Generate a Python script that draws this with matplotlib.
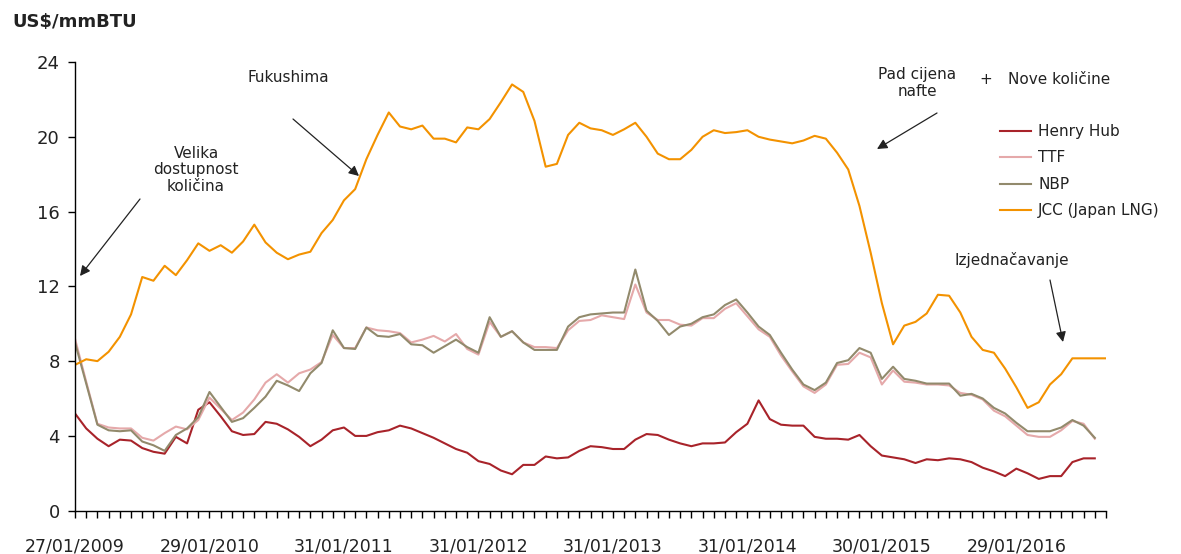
import matplotlib
matplotlib.use("Agg")
import matplotlib.pyplot as plt

plt.rcParams['font.family'] = ['DejaVu Sans']

# monthly prices, US$/mmBTU, from 01/2009
henry_hub = [5.2, 4.4, 3.85, 3.45, 3.8, 3.75, 3.35, 3.15, 3.05, 3.95, 3.6, 5.4,
             5.8, 5.05, 4.25, 4.05, 4.1, 4.75, 4.65, 4.35, 3.95, 3.45, 3.8, 4.3,
             4.45, 4.0, 4.0, 4.2, 4.3, 4.55, 4.4, 4.15, 3.9, 3.6, 3.3, 3.1,
             2.65, 2.5, 2.15, 1.95, 2.45, 2.45, 2.9, 2.8, 2.85, 3.2, 3.45, 3.4,
             3.3, 3.3, 3.8, 4.1, 4.05, 3.8, 3.6, 3.45, 3.6, 3.6, 3.65, 4.2,
             4.65, 5.9, 4.9, 4.6, 4.55, 4.55, 3.95, 3.85, 3.85, 3.8, 4.05, 3.45,
             2.95, 2.85, 2.75, 2.55, 2.75, 2.7, 2.8, 2.75, 2.6, 2.3, 2.1, 1.85,
             2.25, 2.0, 1.7, 1.85, 1.85, 2.6, 2.8, 2.8]
ttf = [9.2, 6.9, 4.65, 4.45, 4.4, 4.4, 3.9, 3.75, 4.15, 4.5, 4.35, 4.85,
       6.05, 5.45, 4.85, 5.25, 5.95, 6.85, 7.3, 6.85, 7.35, 7.55, 7.95, 9.4,
       8.7, 8.7, 9.8, 9.65, 9.6, 9.5, 9.0, 9.15, 9.35, 9.05, 9.45, 8.65,
       8.35, 10.1, 9.3, 9.6, 9.0, 8.75, 8.75, 8.7, 9.65, 10.15, 10.2, 10.45,
       10.35, 10.25, 12.1, 10.6, 10.2, 10.2, 9.95, 9.9, 10.3, 10.3, 10.8, 11.1,
       10.4, 9.7, 9.3, 8.3, 7.45, 6.65, 6.3, 6.75, 7.8, 7.85, 8.45, 8.2,
       6.75, 7.5, 6.9, 6.85, 6.75, 6.75, 6.7, 6.3, 6.2, 5.95, 5.35, 5.05,
       4.55, 4.05, 3.95, 3.95, 4.3, 4.8, 4.65, 3.85]
nbp = [9.0, 6.8, 4.6, 4.3, 4.25, 4.3, 3.7, 3.5, 3.2, 4.05, 4.4, 5.0,
       6.35, 5.55, 4.75, 4.95, 5.5, 6.1, 6.95, 6.7, 6.4, 7.35, 7.9, 9.65,
       8.7, 8.65, 9.8, 9.35, 9.3, 9.45, 8.9, 8.85, 8.45, 8.8, 9.15, 8.75,
       8.45, 10.35, 9.3, 9.6, 9.0, 8.6, 8.6, 8.6, 9.85, 10.35, 10.5, 10.55,
       10.6, 10.6, 12.9, 10.7, 10.15, 9.4, 9.85, 10.0, 10.35, 10.5, 11.0, 11.3,
       10.6, 9.85, 9.4, 8.45, 7.55, 6.75, 6.45, 6.85, 7.9, 8.05, 8.7, 8.45,
       7.05, 7.7, 7.05, 6.95, 6.8, 6.8, 6.8, 6.15, 6.25, 6.0, 5.5, 5.2,
       4.7, 4.25, 4.25, 4.25, 4.45, 4.85, 4.55, 3.9]
jcc = [7.8, 8.1, 8.0, 8.5, 9.3, 10.5, 12.5, 12.3, 13.1, 12.6, 13.4, 14.3,
       13.9, 14.2, 13.8, 14.4, 15.3, 14.35, 13.8, 13.45, 13.7, 13.85, 14.85, 15.55,
       16.6, 17.2, 18.8, 20.1, 21.3, 20.55, 20.4, 20.6, 19.9, 19.9, 19.7, 20.5,
       20.4, 20.95, 21.85, 22.8, 22.4, 20.85, 18.4, 18.55, 20.1, 20.75, 20.45, 20.35,
       20.1, 20.4, 20.75, 20.0, 19.1, 18.8, 18.8, 19.3, 20.0, 20.35, 20.2, 20.25,
       20.35, 20.0, 19.85, 19.75, 19.65, 19.8, 20.05, 19.9, 19.15, 18.25, 16.3, 13.8,
       11.1, 8.9, 9.9, 10.1, 10.55, 11.55, 11.5, 10.6, 9.3, 8.6, 8.45, 7.6,
       6.6, 5.5, 5.8, 6.75, 7.3, 8.15, 8.15, 8.15, 8.15]

date_labels = ['27/01/2009', '29/01/2010', '31/01/2011', '31/01/2012',
               '31/01/2013', '31/01/2014', '30/01/2015', '29/01/2016']

series = [('Henry Hub', henry_hub, '#A8232A'),
          ('TTF', ttf, '#E5A9AA'),
          ('NBP', nbp, '#928A6C'),
          ('JCC (Japan LNG)', jcc, '#F39200')]

W, H = 1181, 554
fig = plt.figure(figsize=(W / 100, H / 100), dpi=100)


def fx(px):
    return px / W


def fy(py):
    return 1 - py / H


ax = fig.add_axes([fx(75), fy(510.7), fx(1106) - fx(75), fy(62) - fy(510.7)])

for name, vals, col in series:
    ax.plot(range(len(vals)), vals, color=col, lw=1.5, label=name)

n_months = len(jcc)
ax.set_xlim(0, n_months - 1)
ax.set_ylim(0, 24)
ax.set_yticks(range(0, 25, 4))
ax.set_xticks(range(0, 12 * len(date_labels), 12))
ax.set_xticklabels(date_labels)
ax.set_xticks(range(n_months), minor=True)

for s in ['top', 'right']:
    ax.spines[s].set_visible(False)
for s in ['left', 'bottom']:
    ax.spines[s].set_color('black')
    ax.spines[s].set_linewidth(1.0)

ax.tick_params(axis='y', length=5, width=1, labelsize=13, pad=6, colors='black', labelcolor='#222222')
ax.tick_params(axis='x', which='both', length=5, width=1, colors='black')
ax.tick_params(axis='x', which='major', labelsize=12.5, pad=14, labelcolor='#222222')

# unit label
fig.text(fx(12), fy(22), 'US$/mmBTU', fontsize=13, fontweight='bold', color='#222222',
         ha='left', va='center')

# annotations
txt = dict(fontsize=11, color='#222222', ha='center', va='center')
fig.text(fx(196), fy(170), 'Velika\ndostupnost\nkoličina', linespacing=1.15, **txt)
fig.text(fx(288), fy(78), 'Fukushima', **txt)
fig.text(fx(917), fy(83), 'Pad cijena\nnafte', linespacing=1.1, **txt)
fig.text(fx(986), fy(79), '+', **txt)
fig.text(fx(1059), fy(79), 'Nove količine', **txt)
fig.text(fx(1012), fy(260), 'Izjednačavanje', **txt)

arrows = [((140, 199), (80, 276)),
          ((293, 119), (359, 176)),
          ((937, 113), (877, 149)),
          ((1050, 280), (1063, 342))]
for (x0, y0), (x1, y1) in arrows:
    ax.annotate('', xy=(fx(x1), fy(y1)), xytext=(fx(x0), fy(y0)),
                xycoords='figure fraction', textcoords='figure fraction',
                arrowprops=dict(arrowstyle='-|>', color='#222222', lw=0.9,
                                mutation_scale=15, shrinkA=0, shrinkB=0))

ax.legend(loc='upper left', bbox_to_anchor=(fx(1000), fy(124)),
          bbox_transform=fig.transFigure, frameon=False, fontsize=11,
          handlelength=2.0, handletextpad=0.5, labelspacing=0.75,
          borderpad=0, borderaxespad=0, labelcolor='#222222')

fig.savefig('out.png', dpi=100)
